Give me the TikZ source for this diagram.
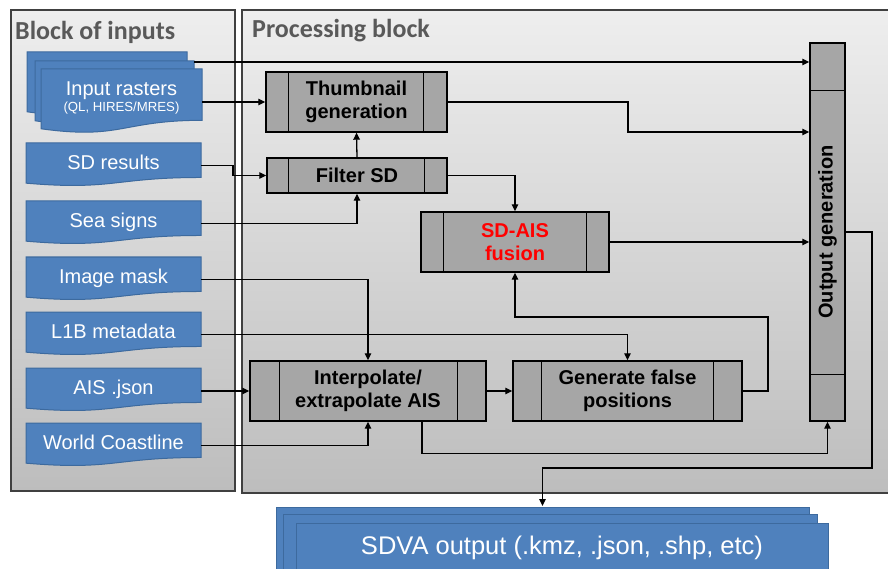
\documentclass[tikz,border=0pt]{standalone}
\usepackage{fontspec}
\setmainfont{Liberation Sans}
\newfontfamily\calib{Carlito}
\usetikzlibrary{arrows.meta}
\definecolor{docblue}{HTML}{4F81BD}
\definecolor{docedge}{HTML}{3D6A9E}
\definecolor{procgray}{HTML}{A6A6A6}
\definecolor{paneledge}{HTML}{404040}
\definecolor{titlegray}{HTML}{595959}
\definecolor{paneltop}{HTML}{EEEEEE}
\definecolor{panelbot}{HTML}{BDBDBD}
\newcommand{\mydoc}[4]{%
  \path[docfill] (#1,#2) -- ({#1+#3},#2) -- ({#1+#3},{#2+0.802*#4})
    .. controls ({#1+0.5*#3},{#2+0.802*#4}) and ({#1+0.5*#3},{#2+1.108*#4}) ..
    (#1,{#2+0.934*#4}) -- cycle;}
\newcommand{\procbars}[3]{%
  \draw[procline] ([xshift=#2pt]#1.north west) -- ([xshift=#2pt]#1.south west);
  \draw[procline] ([xshift=-#3pt]#1.north east) -- ([xshift=-#3pt]#1.south east);}
\begin{document}
\begin{tikzpicture}[x=1pt,y=-1pt,
  panel/.style={draw=paneledge, line width=1.2pt, top color=paneltop, bottom color=panelbot},
  paneltitle/.style={font=\calib\bfseries\fontsize{26}{30}\selectfont, text=titlegray, inner sep=0pt, anchor=west},
  docfill/.style={fill=docblue, draw=docedge, line width=1pt},
  doctext/.style={text=white, font=\fontsize{20}{24}\selectfont, inner sep=0pt, text height=14.5pt, text depth=4pt, align=center},
  proc/.style={draw=black, fill=procgray, line width=1.4pt, inner sep=0pt, align=center, font=\bfseries\fontsize{20}{23}\selectfont},
  procline/.style={draw=black, line width=1.4pt},
  conn/.style={draw=black, line width=1.3pt, -{Triangle[length=7pt,width=6.5pt]}}
]
\useasboundingbox (0,0) rectangle (888,569);
\clip (0,0) rectangle (888,569);
\fill[white] (0,0) rectangle (888,569);

% panels
\path[panel] (11,10) rectangle (235,491);
\path[panel] (242,10) rectangle (900,493);
\node[paneltitle] (t1) at (15,32) {Block of inputs};
\node[paneltitle] (t2) at (252,31) {Processing block};

% input documents
\mydoc{27}{52}{160}{64}
\mydoc{35}{61}{159}{64}
\mydoc{41}{69}{161}{64}
\node[text=white, inner sep=0pt, align=center, minimum width=161pt, font=\fontsize{20}{16}\selectfont] (ir) at (121.5,98.3)
  {Input rasters\\{\fontsize{13.2}{16}\selectfont (QL, HIRES/MRES)}};
\coordinate (ir2) at (194,62);

\mydoc{26}{143}{175}{43}
\node[doctext, minimum width=175pt] (sd) at (113.5,164) {SD results};
\mydoc{26}{201}{175}{43}
\node[doctext, minimum width=175pt] (sea) at (113.5,222) {Sea signs};
\mydoc{26}{257}{175}{43}
\node[doctext, minimum width=175pt] (mask) at (113.5,278) {Image mask};
\mydoc{26}{312}{175}{43}
\node[doctext, minimum width=175pt] (l1b) at (113.5,333) {L1B metadata};
\mydoc{26}{368}{175}{43}
\node[doctext, minimum width=175pt] (ais) at (113.5,389.5) {AIS .json};
\mydoc{26}{423}{175}{43}
\node[doctext, minimum width=175pt] (world) at (113.5,444) {World Coastline};

% processing boxes
\node[proc, minimum width=181pt, minimum height=60pt] (thumb) at (356.5,102) {Thumbnail\\generation};
\procbars{thumb}{23}{24}
\node[proc, minimum width=180pt, minimum height=35pt] (filt) at (357,175.5) {Filter SD};
\procbars{filt}{22}{23}
\node[proc, minimum width=188pt, minimum height=60pt, text=red] (fus) at (515,242) {SD-AIS\\fusion};
\procbars{fus}{23}{23}
\node[proc, minimum width=236pt, minimum height=60pt] (interp) at (368,391) {Interpolate/\\extrapolate AIS};
\procbars{interp}{30}{29}
\node[proc, minimum width=229pt, minimum height=60pt] (gen) at (627.5,391) {Generate false\\positions};
\procbars{gen}{29}{29}
\node[proc, minimum width=35pt, minimum height=378pt] (out) at (827.5,232) {\rotatebox{90}{Output generation}};
\draw[procline] ([yshift=-48pt]out.north west) -- ([yshift=-48pt]out.north east);
\draw[procline] ([yshift=47pt]out.south west) -- ([yshift=47pt]out.south east);

% output documents
\path[docfill] (276,507) rectangle (809,600);
\path[docfill] (283,514) rectangle (817,600);
\path[docfill] (296,523) rectangle (828,600);
\node[text=white, font=\fontsize{25.5}{30}\selectfont, inner sep=0pt] (sdva) at (562,548) {SDVA output (.kmz, .json, .shp, etc)};
\coordinate (sdvatop) at (542.5,506);

% connectors
\draw[conn] (ir2) -- (ir2 -| out.west);
\draw[conn] ([yshift=-3.7pt]ir.east) -- (thumb.west);
\draw[conn] (thumb.east) -- (628,102) |- ([yshift=100pt]out.west);
\draw[conn] ([yshift=-1.5pt]sd.east) -- (233,165.5) |- (filt.west);
\draw[conn] (filt.north) -- (thumb.south);
\draw[conn] ([yshift=-1.5pt]sea.east) -| (filt.south);
\draw[conn] (filt.east) -| (fus.north);
\draw[conn] (fus.east) -- (fus.east -| out.west);
\draw[conn] ([yshift=-1.5pt]mask.east) -| (interp.north);
\draw[conn] ([yshift=-1.5pt]l1b.east) -| (gen.north);
\draw[conn] ([yshift=-1.5pt]ais.east) -- (interp.west);
\draw[conn] ([yshift=-1.5pt]world.east) -| (interp.south);
\draw[conn] (interp.east) -- (gen.west);
\draw[conn] (gen.east) -- (768,391) -- (768,317) -| (fus.south);
\draw[conn] ([xshift=54pt]interp.south) -- ++(0,32) -| (out.south);
\draw[conn] (out.east) -- (872,232) -- (872,468) -| (sdvatop);
\end{tikzpicture}
\end{document}
